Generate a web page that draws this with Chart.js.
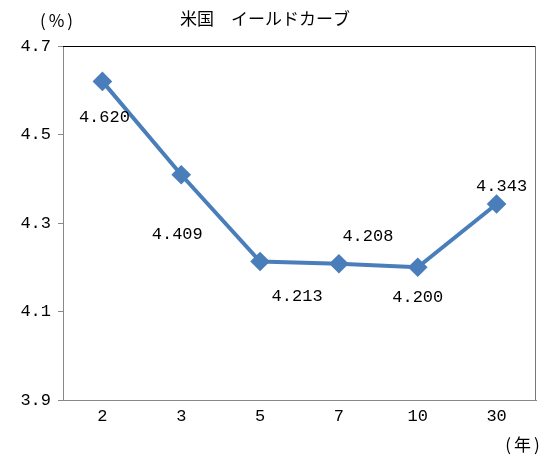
<!DOCTYPE html>
<html><head><meta charset="utf-8">
<script src="https://cdn.jsdelivr.net/npm/chart.js@4"></script>
<style>html,body{margin:0;padding:0;background:#fff}#wrap{width:556px;height:475px}</style>
</head><body><div id="wrap"><canvas id="c" width="556" height="475"></canvas></div>
<script>
const categories = ['2', '3', '5', '7', '10', '30'];
const yields = [4.620, 4.409, 4.213, 4.208, 4.200, 4.343];
const yTicks = [3.9, 4.1, 4.3, 4.5, 4.7];
const titleText = '米国　イールドカーブ';
const yUnit = '(%)';
const xUnit = '(年)';
// label offsets relative to point (pixels)
const labelOffsets = [[2, 36], [-4, 60], [37, 35], [29, -27], [0, 30], [5, -17]];

const MONO = '"Liberation Mono", "DejaVu Sans Mono", monospace';
const JP = '"Noto Sans CJK JP", sans-serif';

const decor = {
  id: 'decor',
  afterDraw(chart) {
    const ctx = chart.ctx, a = chart.chartArea;
    ctx.save();
    ctx.lineWidth = 1;
    ctx.strokeStyle = '#000';
    ctx.beginPath(); ctx.moveTo(a.left, a.top + 0.5); ctx.lineTo(a.right, a.top + 0.5); ctx.stroke();
    ctx.strokeStyle = '#777';
    ctx.beginPath(); ctx.moveTo(a.right - 0.5, a.top); ctx.lineTo(a.right - 0.5, a.bottom); ctx.stroke();
    const meta = chart.getDatasetMeta(0);
    ctx.fillStyle = '#000';
    ctx.font = '17px ' + MONO;
    ctx.textAlign = 'center'; ctx.textBaseline = 'middle';
    meta.data.forEach((p, i) => {
      const o = labelOffsets[i];
      ctx.fillText(yields[i].toFixed(3), p.x + o[0], p.y + o[1]);
    });
    ctx.font = '17px ' + JP;
    ctx.fillText(titleText, 265, 19);
    ctx.letterSpacing = '3px';
    ctx.fillText(yUnit, 58, 21);
    ctx.fillText(xUnit, 524, 445);
    ctx.restore();
  }
};

new Chart(document.getElementById('c'), {
  type: 'line',
  data: {
    labels: categories,
    datasets: [{
      data: yields,
      borderColor: '#4A7EBB',
      backgroundColor: '#4A7EBB',
      borderWidth: 4,
      pointStyle: 'rectRot',
      pointRadius: 7,
      pointHoverRadius: 7,
      tension: 0
    }]
  },
  options: {
    responsive: false,
    animation: false,
    devicePixelRatio: 1,
    layout: { padding: { top: 46, right: 20, left: 0, bottom: 0 } },
    plugins: { legend: { display: false }, tooltip: { enabled: false } },
    scales: {
      x: {
        offset: true,
        grid: { display: false, drawTicks: false },
        border: { display: true, color: '#888', width: 1 },
        ticks: { color: '#000', font: { family: MONO, size: 17 }, padding: 6 },
        afterFit(s) { s.height = 75; }
      },
      y: {
        min: 3.9, max: 4.7,
        afterBuildTicks(s) { s.ticks = yTicks.map(v => ({ value: v })); },
        grid: { drawOnChartArea: false, drawTicks: true, tickLength: 5, color: '#888' },
        border: { display: true, color: '#888', width: 1 },
        ticks: { color: '#000', font: { family: MONO, size: 17 }, padding: 7,
                 callback: v => v.toFixed(1) },
        afterFit(s) { s.width = 63; }
      }
    }
  },
  plugins: [decor]
});
</script></body></html>
